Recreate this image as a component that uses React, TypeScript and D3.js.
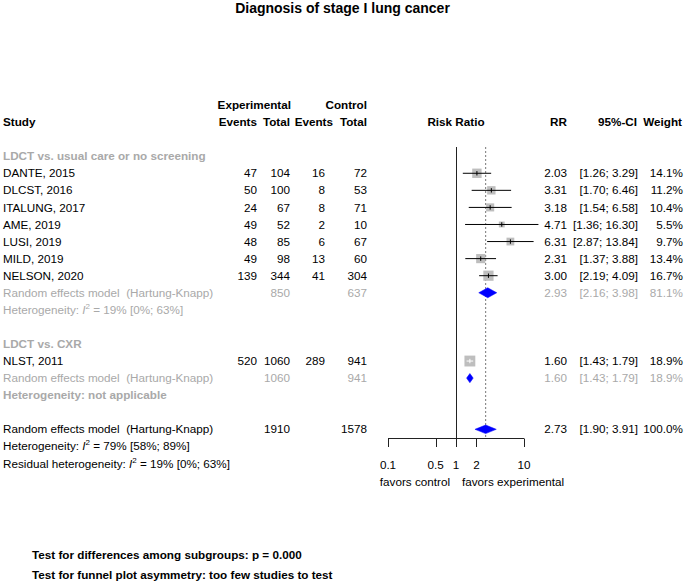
import React from "react";
import * as d3 from "d3";

const title = "Diagnosis of stage I lung cancer";
const groupLabels = ["LDCT vs. usual care or no screening", "LDCT vs. CXR"];

const studies1 = ["DANTE, 2015", "DLCST, 2016", "ITALUNG, 2017", "AME, 2019", "LUSI, 2019", "MILD, 2019", "NELSON, 2020"];
const expEvents1 = [47, 50, 24, 49, 48, 49, 139];
const expTotal1 = [104, 100, 67, 52, 85, 98, 344];
const ctrlEvents1 = [16, 8, 8, 2, 6, 13, 41];
const ctrlTotal1 = [72, 53, 71, 10, 67, 60, 304];
const rr1 = [2.03, 3.31, 3.18, 4.71, 6.31, 2.31, 3.0];
const lower1 = [1.26, 1.7, 1.54, 1.36, 2.87, 1.37, 2.19];
const upper1 = [3.29, 6.46, 6.58, 16.3, 13.84, 3.88, 4.09];
const weight1 = [14.1, 11.2, 10.4, 5.5, 9.7, 13.4, 16.7];

const studies2 = ["NLST, 2011"];
const expEvents2 = [520];
const expTotal2 = [1060];
const ctrlEvents2 = [289];
const ctrlTotal2 = [941];
const rr2 = [1.6];
const lower2 = [1.43];
const upper2 = [1.79];
const weight2 = [18.9];

// subgroup summaries: [rr, lower, upper, weight, expTotal, ctrlTotal]
const sub1 = [2.93, 2.16, 3.98, 81.1, 850, 637];
const sub2 = [1.6, 1.43, 1.79, 18.9, 1060, 941];
const overall = [2.73, 1.9, 3.91, 100.0, 1910, 1578];

const het1 = ["19%", "[0%; 63%]"];
const hetAll = ["79%", "[58%; 89%]"];
const hetResid = ["19%", "[0%; 63%]"];

const ticks = [0.1, 0.5, 1, 2, 10];
const footer = ["Test for differences among subgroups: p = 0.000", "Test for funnel plot asymmetry: too few studies to test"];

const W = 685;
const H = 587;
const FONT = "'Liberation Sans', Arial, Helvetica, sans-serif";
const FS = 11.7;
const GRAY = "#A9A9A9";
const SQ = "#BEBEBE";

const x = d3.scaleLog().domain([0.1, 10]).range([388, 524]);
const row = d3.scaleLinear().domain([0, 1]).range([156.2, 173.27]);
const sqSize = d3.scaleSqrt().domain([0, 100]).range([0, 25]);

const col = { study: 3, expE: 257, expT: 290, ctlE: 325, ctlEH: 333, ctlT: 367, rr: 567, ci: 638, w: 683 };

const fmtCI = (l: number, u: number) => `[${l.toFixed(2)}; ${u.toFixed(2)}]`;
const fmtW = (w: number) => `${w.toFixed(1)}%`;

function T({ x: tx, r, children, anchor = "start", color = "#000", bold = false, size = FS, dy = 4.1 }: any) {
  return (
    <text x={tx} y={row(r) + dy} textAnchor={anchor} fill={color} fontWeight={bold ? "bold" : "normal"} fontSize={size} fontFamily={FONT} style={{ whiteSpace: "pre" }}>
      {children}
    </text>
  );
}

function StudyRow({ r, name, ee, et, ce, ct, est, lo, hi, w }: any) {
  const cy = row(r);
  const s = sqSize(w);
  const inside = x(lo) >= x(est) - s / 2 && x(hi) <= x(est) + s / 2;
  const lineCol = inside ? "#fff" : "#000";
  return (
    <g>
      <T x={col.study} r={r}>{name}</T>
      <T x={col.expE} r={r} anchor="end">{ee}</T>
      <T x={col.expT} r={r} anchor="end">{et}</T>
      <T x={col.ctlE} r={r} anchor="end">{ce}</T>
      <T x={col.ctlT} r={r} anchor="end">{ct}</T>
      <rect x={x(est) - s / 2} y={cy - s / 2} width={s} height={s} fill={SQ} />
      <line x1={x(lo)} x2={x(hi)} y1={cy} y2={cy} stroke={lineCol} strokeWidth={1} />
      <line x1={x(est)} x2={x(est)} y1={cy - 2.2} y2={cy + 2.2} stroke={lineCol} strokeWidth={1} />
      <T x={col.rr} r={r} anchor="end">{est.toFixed(2)}</T>
      <T x={col.ci} r={r} anchor="end">{fmtCI(lo, hi)}</T>
      <T x={col.w} r={r} anchor="end">{fmtW(w)}</T>
    </g>
  );
}

function Diamond({ r, est, lo, hi, h = 4.6 }: any) {
  const cy = row(r);
  const p = [
    [x(lo), cy],
    [x(est), cy - h],
    [x(hi), cy],
    [x(est), cy + h],
  ];
  return <path d={d3.line()(p as any) + "Z"} fill="#0000FF" stroke="#0000FF" strokeWidth={0.5} />;
}

function SummaryRow({ r, data, color, h }: any) {
  const [est, lo, hi, w, et, ct] = data;
  return (
    <g>
      <T x={col.study} r={r} color={color}>{"Random effects model  (Hartung-Knapp)"}</T>
      <T x={col.expT} r={r} anchor="end" color={color}>{et}</T>
      <T x={col.ctlT} r={r} anchor="end" color={color}>{ct}</T>
      <Diamond r={r} est={est} lo={lo} hi={hi} h={h} />
      <T x={col.rr} r={r} anchor="end" color={color}>{est.toFixed(2)}</T>
      <T x={col.ci} r={r} anchor="end" color={color}>{fmtCI(lo, hi)}</T>
      <T x={col.w} r={r} anchor="end" color={color}>{fmtW(w)}</T>
    </g>
  );
}

function Het({ r, label, vals, color = "#000" }: any) {
  return (
    <text x={col.study} y={row(r) + 4.1} fill={color} fontSize={FS} fontFamily={FONT} style={{ whiteSpace: "pre" }}>
      {label}
      <tspan fontStyle="italic">I</tspan>
      <tspan fontSize={8} dy={-5}>2</tspan>
      <tspan dy={5}>{` = ${vals[0]} ${vals[1]}`}</tspan>
    </text>
  );
}

export default function App() {
  const refTop = 147;
  const axisY = 438.5;
  return (
    <svg width={W} height={H} style={{ position: "absolute", left: 0, top: 0, background: "#fff" }}>
      <text x={W / 2} y={12.8} textAnchor="middle" fontWeight="bold" fontSize={14} fontFamily={FONT}>{title}</text>

      {/* headers */}
      <T x={col.expT + 1} r={-3} anchor="end" bold>Experimental</T>
      <T x={col.ctlT} r={-3} anchor="end" bold>Control</T>
      <T x={col.study} r={-2} bold>Study</T>
      <T x={col.expE} r={-2} anchor="end" bold>Events</T>
      <T x={col.expT} r={-2} anchor="end" bold>Total</T>
      <T x={col.ctlEH} r={-2} anchor="end" bold>Events</T>
      <T x={col.ctlT} r={-2} anchor="end" bold>Total</T>
      <T x={x(1)} r={-2} anchor="middle" bold>Risk Ratio</T>
      <T x={col.rr} r={-2} anchor="end" bold>RR</T>
      <T x={col.ci - 1} r={-2} anchor="end" bold>95%-CI</T>
      <T x={col.w - 1} r={-2} anchor="end" bold>Weight</T>

      {/* reference lines */}
      <line x1={Math.round(x(1)) + 0.5} x2={Math.round(x(1)) + 0.5} y1={refTop} y2={axisY} stroke="#222" strokeWidth={1} />
      <line x1={x(overall[0])} x2={x(overall[0])} y1={refTop} y2={axisY} stroke="#555" strokeWidth={0.8} strokeDasharray="2,2" />

      {/* subgroup 1 */}
      <T x={col.study} r={0} color={GRAY} bold>{groupLabels[0]}</T>
      {studies1.map((s, i) => (
        <StudyRow key={s} r={i + 1} name={s} ee={expEvents1[i]} et={expTotal1[i]} ce={ctrlEvents1[i]} ct={ctrlTotal1[i]} est={rr1[i]} lo={lower1[i]} hi={upper1[i]} w={weight1[i]} />
      ))}
      <SummaryRow r={8} data={sub1} color={GRAY} h={5} />
      <Het r={9} label="Heterogeneity: " vals={het1} color={GRAY} />

      {/* subgroup 2 */}
      <T x={col.study} r={11} color={GRAY} bold>{groupLabels[1]}</T>
      {studies2.map((s, i) => (
        <StudyRow key={s} r={i + 12} name={s} ee={expEvents2[i]} et={expTotal2[i]} ce={ctrlEvents2[i]} ct={ctrlTotal2[i]} est={rr2[i]} lo={lower2[i]} hi={upper2[i]} w={weight2[i]} />
      ))}
      <SummaryRow r={13} data={sub2} color={GRAY} h={4.6} />
      <T x={col.study} r={14} color={GRAY} bold>Heterogeneity: not applicable</T>

      {/* overall */}
      <SummaryRow r={16} data={overall} color="#000" h={4.3} />
      <Het r={17} label="Heterogeneity: " vals={hetAll} />
      <Het r={18} label="Residual heterogeneity: " vals={hetResid} />

      {/* axis */}
      <line x1={x(0.1)} x2={x(10)} y1={axisY} y2={axisY} stroke="#222" strokeWidth={1} />
      {ticks.map((t) => (
        <g key={t}>
          <line x1={Math.round(x(t)) + 0.5} x2={Math.round(x(t)) + 0.5} y1={axisY} y2={axisY + 8.5} stroke="#222" strokeWidth={1} />
          <text x={x(t)} y={469} textAnchor="middle" fontSize={FS} fontFamily={FONT}>{String(t)}</text>
        </g>
      ))}
      <text x={x(1) - 6} y={486} textAnchor="end" fontSize={FS} fontFamily={FONT}>favors control</text>
      <text x={x(1) + 6} y={486} textAnchor="start" fontSize={FS} fontFamily={FONT}>favors experimental</text>

      {/* footer */}
      {footer.map((f, i) => (
        <text key={f} x={32} y={559 + i * 20} fontWeight="bold" fontSize={FS} fontFamily={FONT}>{f}</text>
      ))}
    </svg>
  );
}
